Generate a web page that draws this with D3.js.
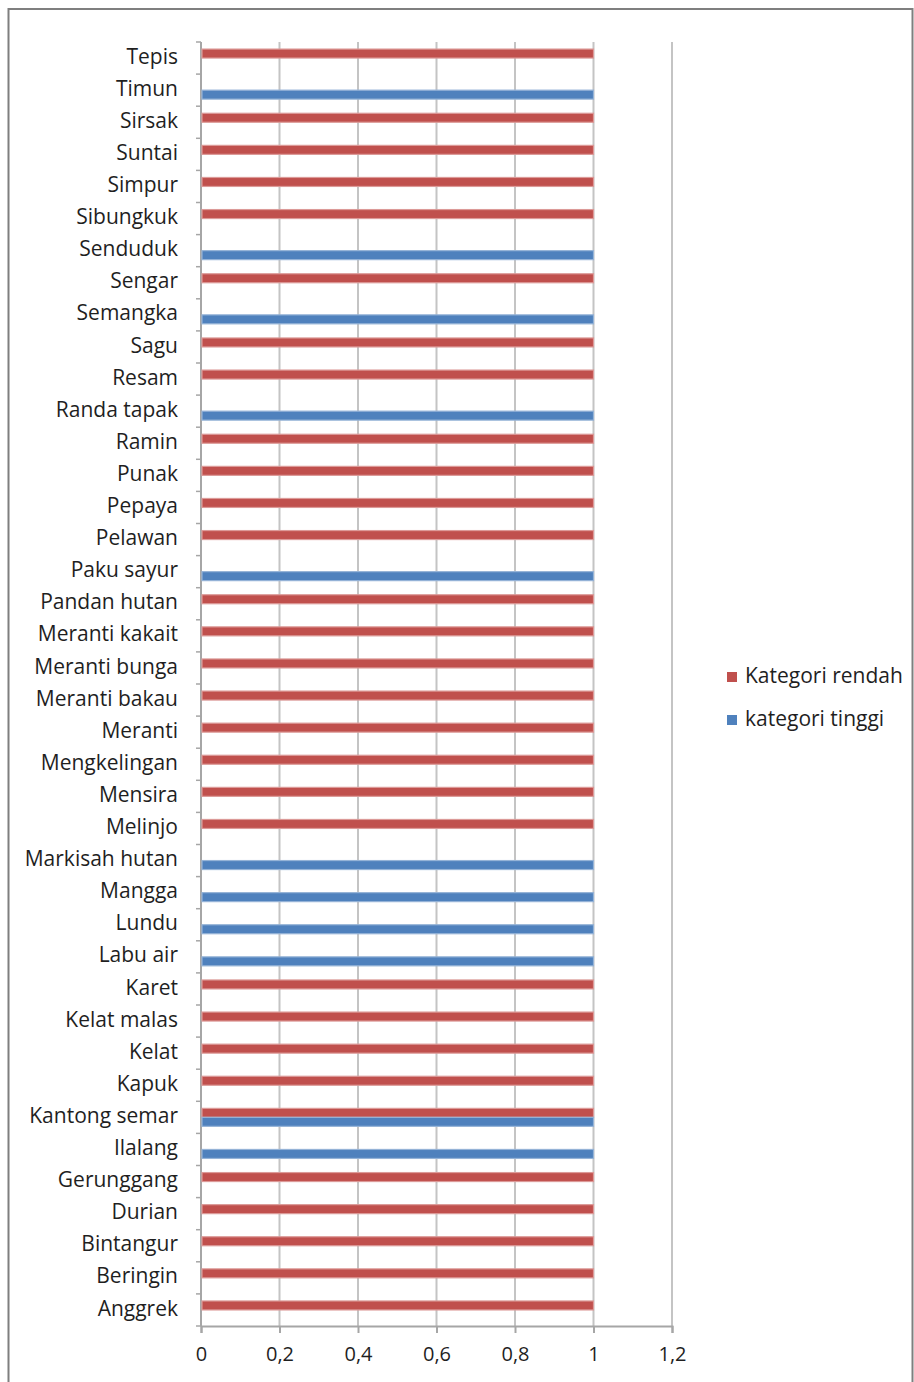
<!DOCTYPE html>
<meta charset="utf-8">
<script src="https://d3js.org/d3.v7.min.js"></script>
<style>
  body { margin: 0; background: #fff; }
  text { font-family: "Open Sans", Lato, sans-serif; fill: #1f1f1f; }
</style>
<div id="my_dataviz"></div>
<script>

// categories, bottom to top (as in the sheet)
var categories = ["Anggrek","Beringin","Bintangur","Durian","Gerunggang","Ilalang","Kantong semar",
  "Kapuk","Kelat","Kelat malas","Karet","Labu air","Lundu","Mangga","Markisah hutan","Melinjo",
  "Mensira","Mengkelingan","Meranti","Meranti bakau","Meranti bunga","Meranti kakait","Pandan hutan",
  "Paku sayur","Pelawan","Pepaya","Punak","Ramin","Randa tapak","Resam","Sagu","Semangka","Sengar",
  "Senduduk","Sibungkuk","Simpur","Suntai","Sirsak","Timun","Tepis"];

var rendah = [1,1,1,1,1,0,1,1,1,1,1,0,0,0,0,1,1,1,1,1,1,1,1,0,1,1,1,1,0,1,1,0,1,0,1,1,1,1,0,1];
var tinggi = [0,0,0,0,0,1,1,0,0,0,0,1,1,1,1,0,0,0,0,0,0,0,0,1,0,0,0,0,1,0,0,1,0,1,0,0,0,0,1,0];

var seriesNames = ["Kategori rendah", "kategori tinggi"];
var seriesColors = ["#C0504D", "#4F81BD"];
var seriesEdge = ["#DC9A98", "#95B3D7"];
var xTicks = [0, 0.2, 0.4, 0.6, 0.8, 1, 1.2];

var W = 914, H = 1382;
var margin = {top: 42, left: 201},
    width = 672 - 201,
    height = 1326 - 42;

var svgRoot = d3.select("#my_dataviz").append("svg")
  .attr("width", W).attr("height", H);

// chart frame
svgRoot.append("rect")
  .attr("x", 8.5).attr("y", 9)
  .attr("width", 904).attr("height", H + 20)
  .attr("fill", "none")
  .attr("stroke", "#7f7f7f")
  .attr("stroke-width", 2);

var svg = svgRoot.append("g")
  .attr("transform", "translate(" + margin.left + "," + margin.top + ")");

var x = d3.scaleLinear().domain([0, 1.2]).range([0, width]);

var y = d3.scaleBand()
  .domain(categories.slice().reverse())
  .range([0, height])
  .paddingInner(0.44)
  .paddingOuter(0.22);

var ySub = d3.scaleBand()
  .domain([0, 1])
  .range([0, y.bandwidth()]);

// gridlines
svg.append("g")
  .selectAll("line")
  .data(xTicks.slice(1))
  .join("line")
    .attr("x1", function(d) { return x(d); })
    .attr("x2", function(d) { return x(d); })
    .attr("y1", 0)
    .attr("y2", height)
    .attr("stroke", "#c4c4c4")
    .attr("stroke-width", 2);

// x axis
var xAxis = svg.append("g")
  .attr("transform", "translate(0," + height + ")")
  .call(d3.axisBottom(x).tickValues(xTicks).tickSize(7).tickPadding(14)
    .tickFormat(function(d) { return String(d).replace(".", ","); }));
xAxis.select(".domain").attr("stroke", "#a6a6a6").attr("stroke-width", 2);
xAxis.selectAll(".tick line").attr("stroke", "#a6a6a6").attr("stroke-width", 2);
xAxis.selectAll("text").style("font-size", "20px").attr("fill", "#1f1f1f")
  .style("font-family", "\"Open Sans\", Lato, sans-serif");

// y axis: ticks between categories
var yAxisG = svg.append("g");
yAxisG.append("line")
  .attr("x1", 0).attr("x2", 0).attr("y1", 0).attr("y2", height)
  .attr("stroke", "#a6a6a6").attr("stroke-width", 2);
yAxisG.selectAll(".yt")
  .data(d3.range(categories.length + 1))
  .join("line")
    .attr("class", "yt")
    .attr("x1", -5).attr("x2", 0)
    .attr("y1", function(i) { return i * height / categories.length; })
    .attr("y2", function(i) { return i * height / categories.length; })
    .attr("stroke", "#a6a6a6").attr("stroke-width", 1.5);

yAxisG.selectAll(".ylab")
  .data(categories)
  .join("text")
    .attr("class", "ylab")
    .attr("x", -23)
    .attr("y", function(d) { return y(d) + y.bandwidth() / 2; })
    .attr("text-anchor", "end")
    .attr("dominant-baseline", "middle")
    .style("font-size", "21px")
    .text(function(d) { return d; });

// bars
var series = [rendah, tinggi];
series.forEach(function(vals, s) {
  svg.append("g")
    .selectAll("rect")
    .data(categories.map(function(c, i) { return {cat: c, v: vals[i]}; })
      .filter(function(d) { return d.v > 0; }))
    .join("rect")
      .attr("x", x(0) + 1)
      .attr("y", function(d) { return y(d.cat) + ySub(s); })
      .attr("width", function(d) { return x(d.v) - x(0) - 1; })
      .attr("height", ySub.bandwidth())
      .attr("fill", seriesColors[s])
      .attr("stroke", seriesEdge[s])
      .attr("stroke-width", 1.2);
});

// legend
var legend = svgRoot.append("g");
seriesNames.forEach(function(name, s) {
  var ly = 677 + s * 43;
  legend.append("rect")
    .attr("x", 727).attr("y", ly - 5)
    .attr("width", 10).attr("height", 10)
    .attr("fill", seriesColors[s]);
  legend.append("text")
    .attr("x", 745).attr("y", ly)
    .attr("dominant-baseline", "middle")
    .style("font-size", "21px")
    .text(name);
});

</script>
